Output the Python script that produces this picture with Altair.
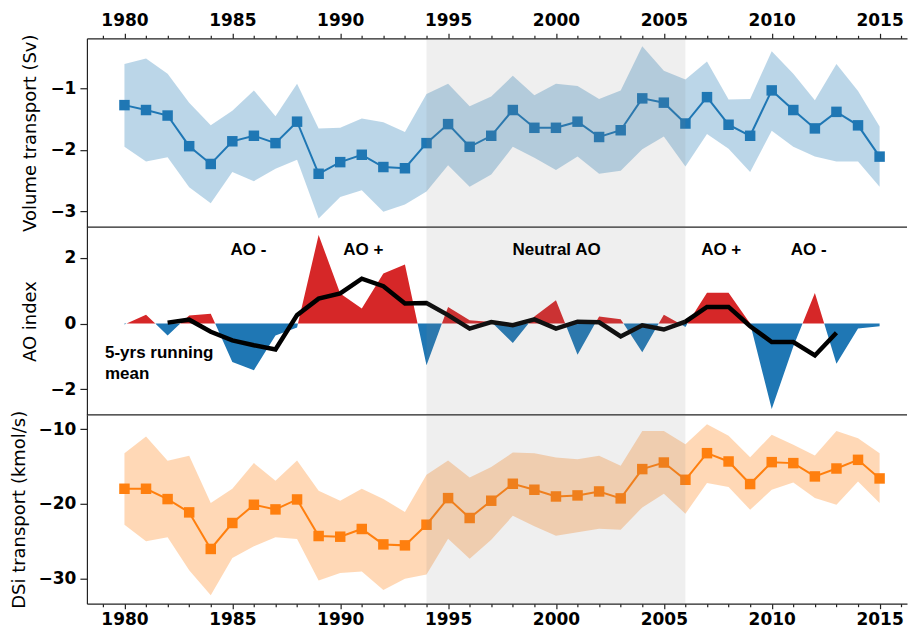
import altair as alt
import pandas as pd

# ---------------- data ----------------
years = list(range(1980, 2016))

vol_mean = [-1.27, -1.35, -1.44, -1.94, -2.23, -1.86, -1.77, -1.89, -1.54, -2.39,
            -2.20, -2.08, -2.28, -2.30, -1.89, -1.58, -1.95, -1.77, -1.35, -1.64,
            -1.64, -1.54, -1.79, -1.68, -1.16, -1.23, -1.57, -1.14, -1.59, -1.77,
            -1.03, -1.35, -1.65, -1.38, -1.60, -2.11]
vol_upper = [-0.60, -0.51, -0.76, -1.23, -1.60, -1.36, -1.03, -1.45, -0.92, -1.65,
             -1.64, -1.49, -1.55, -1.71, -1.09, -0.92, -1.29, -1.13, -0.79, -1.11,
             -0.92, -0.96, -1.17, -1.03, -0.31, -0.71, -0.85, -0.56, -1.18, -1.17,
             -0.39, -0.76, -1.19, -0.60, -1.04, -1.62]
vol_lower = [-1.95, -2.19, -2.12, -2.61, -2.87, -2.36, -2.51, -2.31, -2.16, -3.12,
             -2.77, -2.66, -3.01, -2.89, -2.68, -2.25, -2.60, -2.40, -1.95, -2.13,
             -2.33, -2.11, -2.39, -2.34, -1.99, -1.78, -2.27, -1.74, -1.98, -2.36,
             -1.69, -1.95, -2.11, -2.19, -2.19, -2.60]

ao_index = [-0.03, 0.27, -0.36, 0.25, 0.30, -1.17, -1.42, -0.36, -0.12, 2.70,
            0.92, 0.46, 1.53, 1.80, -1.27, 0.51, 0.10, 0.05, -0.59, 0.22,
            0.71, -0.95, 0.22, 0.13, -0.87, 0.27, -0.10, 0.94, 0.94, 0.00,
            -2.60, -0.70, 0.93, -1.22, -0.15, -0.08]

run_years = list(range(1982, 2014))
ao_running = [0.03, 0.12, -0.25, -0.51, -0.66, -0.79, 0.26, 0.76, 0.92, 1.37,
              1.14, 0.61, 0.63, 0.26, -0.15, 0.05, -0.05, 0.13, -0.15, 0.06,
              0.04, -0.39, -0.05, -0.18, 0.06, 0.51, 0.51, -0.08, -0.56, -0.56,
              -0.97, -0.28]

dsi_mean = [-17.97, -17.97, -19.35, -21.13, -26.02, -22.55, -20.11, -20.73, -19.40, -24.29,
            -24.38, -23.35, -25.41, -25.54, -22.78, -19.22, -21.88, -19.57, -17.30, -18.10,
            -19.00, -18.86, -18.33, -19.26, -15.34, -14.46, -16.77, -13.21, -14.32, -17.34,
            -14.41, -14.54, -16.32, -15.26, -14.10, -16.59]
dsi_upper = [-13.21, -10.98, -14.23, -13.56, -19.88, -17.97, -14.54, -16.90, -14.19, -18.24,
             -19.57, -17.97, -19.35, -21.08, -16.10, -14.19, -16.46, -15.07, -13.12, -13.21,
             -13.79, -14.01, -13.56, -14.90, -10.23, -10.23, -12.00, -9.33, -10.89, -13.74,
             -10.76, -12.10, -13.52, -10.23, -11.20, -13.21]
dsi_lower = [-22.78, -25.00, -24.47, -28.88, -32.21, -27.23, -25.67, -24.47, -24.69, -30.25,
             -29.23, -29.05, -31.50, -29.99, -29.45, -24.65, -27.32, -24.78, -21.58, -23.00,
             -24.25, -23.80, -23.31, -23.44, -20.46, -18.63, -21.30, -17.21, -17.74, -20.77,
             -18.10, -17.13, -19.22, -20.11, -17.00, -19.88]

neutral_start = [1994]
neutral_end = [2006]

annotation_texts = ["AO -", "AO +", "Neutral AO", "AO +", "AO -", ["5-yrs running", "mean"]]

# ---------------- layout / style ----------------
X_DOMAIN = [1978.26, 2016.27]
W = 821
H_TOP, H_MID, H_BOT = 189, 188, 189
BLUE, ORANGE, RED = "#1f77b4", "#ff7f0e", "#d62728"
FRAME = "#222222"

TOP_YDOM = [-3.26, -0.18]
MID_YDOM = [-2.78, 2.94]
BOT_YDOM = [-33.34, -8.09]

# annotation placement (data coordinates of the middle panel)
ann_x = [1985.75, 1991.07, 2000.03, 2007.66, 2011.71, 1979.1]
ann_y = [2.24, 2.24, 2.24, 2.24, 2.24, -0.9]
ann_align = ["center", "center", "center", "center", "center", "left"]

x_scale = alt.Scale(domain=X_DOMAIN, nice=False, zero=False)
tick_vals = list(range(1979, 2017))
major_test = "datum.value % 5 === 0"


def x_axis_labeled(orient):
    return alt.Axis(orient=orient, values=tick_vals, format="d",
                    labelExpr="datum.value % 5 === 0 ? datum.label : ''",
                    tickSize=alt.condition(major_test, alt.value(5), alt.value(3)),
                    labelPadding=4 if orient == "top" else 3,
                    title=None, grid=False, domain=True, labelOverlap=False,
                    labelFlush=False)


def y_axis(title, values):
    return alt.Axis(title=title, values=values, format="d", tickSize=7,
                    labelPadding=4, titlePadding=10, grid=False, domain=True)


span_df = pd.DataFrame({"start": neutral_start, "end": neutral_end})


def span_layer():
    return alt.Chart(span_df).mark_rect(color="#808080", opacity=0.13).encode(
        x=alt.X("start:Q", scale=x_scale, axis=None),
        x2="end:Q",
    )


def edge_rule(value, ysc):
    edf = pd.DataFrame({"edge": [value]})
    return alt.Chart(edf).mark_rule(color=FRAME, strokeWidth=1.2).encode(
        y=alt.Y("edge:Q", scale=ysc)
    )


def band_panel(mean, upper, lower, color, y_title, y_dom, y_vals, height,
               x_axis, bottom_edge):
    df = pd.DataFrame({"year": years, "mean": mean, "upper": upper, "lower": lower})
    base = alt.Chart(df)
    ysc = alt.Scale(domain=y_dom, nice=False, zero=False)
    band = base.mark_area(color=color, opacity=0.3).encode(
        x=alt.X("year:Q", scale=x_scale, axis=x_axis),
        y=alt.Y("lower:Q", scale=ysc, axis=y_axis(y_title, y_vals)),
        y2="upper:Q",
    )
    line = base.mark_line(color=color, strokeWidth=2).encode(
        x=alt.X("year:Q", scale=x_scale, axis=None),
        y=alt.Y("mean:Q", scale=ysc),
    )
    pts = base.mark_square(color=color, size=110, opacity=1).encode(
        x=alt.X("year:Q", scale=x_scale, axis=None),
        y=alt.Y("mean:Q", scale=ysc),
    )
    layers = [band, line, pts, span_layer()]
    if bottom_edge:
        layers.append(edge_rule(y_dom[0], ysc))
    return alt.layer(*layers).resolve_axis(x="independent").properties(
        width=W, height=height)


top = band_panel(vol_mean, vol_upper, vol_lower, BLUE, "Volume transport (Sv)",
                 TOP_YDOM, [-3, -2, -1], H_TOP,
                 x_axis_labeled("top"), True)

bot = band_panel(dsi_mean, dsi_upper, dsi_lower, ORANGE, "DSi transport (kmol/s)",
                 BOT_YDOM, [-30, -20, -10], H_BOT,
                 x_axis_labeled("bottom"), False)

# ---- middle panel: AO index filled by sign ----
rows = []
for i, (yr, v) in enumerate(zip(years, ao_index)):
    if i > 0:
        pv = ao_index[i - 1]
        if pv * v < 0:
            t = pv / (pv - v)
            rows.append((years[i - 1] + t, 0.0))
    rows.append((yr, v))
ao_df = pd.DataFrame(rows, columns=["year", "ao"])
ao_df["pos"] = ao_df["ao"].clip(lower=0)
ao_df["neg"] = ao_df["ao"].clip(upper=0)
ao_df["zero"] = 0.0

mid_ysc = alt.Scale(domain=MID_YDOM, nice=False, zero=False)
ao_base = alt.Chart(ao_df)
pos_area = ao_base.mark_area(color=RED).encode(
    x=alt.X("year:Q", scale=x_scale, axis=None),
    y=alt.Y("pos:Q", scale=mid_ysc, axis=y_axis("AO index", [-2, 0, 2])),
    y2="zero:Q",
)
neg_area = ao_base.mark_area(color=BLUE).encode(
    x=alt.X("year:Q", scale=x_scale, axis=None),
    y=alt.Y("neg:Q", scale=mid_ysc),
    y2="zero:Q",
)
run_df = pd.DataFrame({"year": run_years, "run": ao_running})
run_line = alt.Chart(run_df).mark_line(color="black", strokeWidth=4.5).encode(
    x=alt.X("year:Q", scale=x_scale, axis=None),
    y=alt.Y("run:Q", scale=mid_ysc),
)
ann_df = pd.DataFrame({"x": ann_x, "y": ann_y, "text": annotation_texts, "align": ann_align})
ann_center = alt.Chart(ann_df[ann_df["align"] == "center"]).mark_text(
    font="Liberation Sans", fontWeight="bold", fontSize=17, color="black",
    align="center", baseline="middle").encode(
    x=alt.X("x:Q", scale=x_scale, axis=None),
    y=alt.Y("y:Q", scale=mid_ysc),
    text="text",
)
ann_left = alt.Chart(ann_df[ann_df["align"] == "left"]).mark_text(
    font="Liberation Sans", fontWeight="bold", fontSize=17, color="black",
    align="left", baseline="middle", lineHeight=21).encode(
    x=alt.X("x:Q", scale=x_scale, axis=None),
    y=alt.Y("y:Q", scale=mid_ysc),
    text="text",
)
mid = alt.layer(pos_area, neg_area, run_line, span_layer(), ann_center, ann_left,
                edge_rule(MID_YDOM[0], mid_ysc)).resolve_axis(x="independent").properties(
    width=W, height=H_MID)

chart = alt.vconcat(top, mid, bot, spacing=0, bounds="flush").properties(
    padding={"left": 2, "top": 3, "right": 0, "bottom": 0}
).configure_view(stroke=None).configure_axis(
    labelFont="DejaVu Sans", labelFontWeight="bold", labelFontSize=17, labelColor="black",
    titleFont="DejaVu Sans", titleFontWeight="normal", titleFontSize=18, titleColor="black",
    domainColor=FRAME, tickColor=FRAME, domainWidth=1.2, tickWidth=1.2,
)

chart.save("out.html", embed_options={"renderer": "svg", "actions": False})
